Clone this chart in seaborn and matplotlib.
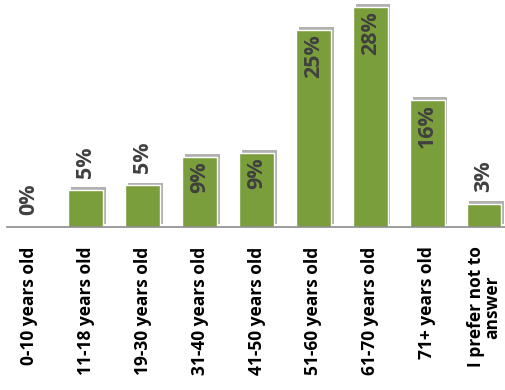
import matplotlib
matplotlib.use("Agg")
import matplotlib.pyplot as plt
import matplotlib.patheffects as pe
import seaborn as sns
import pandas as pd

categories = ["0-10 years old", "11-18 years old", "19-30 years old", "31-40 years old",
              "41-50 years old", "51-60 years old", "61-70 years old", "71+ years old",
              "I prefer not to\nanswer"]
values = [0.0, 4.7, 5.3, 8.9, 9.4, 25.1, 28.0, 16.2, 2.9]
# labels of the bars tall enough are written inside the bar
inside = [False, False, False, True, True, True, True, True, False]

sns.set_style("white")
plt.rcParams["font.family"] = ["Open Sans", "DejaVu Sans"]

df = pd.DataFrame({"age": categories, "share": values})

fig = plt.figure(figsize=(5.06, 3.90), dpi=100)
ax = fig.add_axes([7 / 506, 1 - 227 / 390, 1 - 7 / 506, 227 / 390])

sns.barplot(data=df, x="age", y="share", color="#7a9e3b", saturation=1,
            width=0.61, ax=ax)
for bar in ax.patches:
    bar.set_path_effects([pe.SimplePatchShadow(offset=(2, 2), shadow_rgbFace="#909090", alpha=0.7),
                          pe.Normal()])

for i, (v, ins) in enumerate(zip(values, inside)):
    txt = f"{v:.0f}%"
    if ins:
        ax.annotate(txt, (i, v), xytext=(0, -3), textcoords="offset points",
                    rotation=90, ha="center", va="top", fontsize=15.5,
                    fontweight="bold", color="#404040")
    else:
        ax.annotate(txt, (i, v), xytext=(0, 9), textcoords="offset points",
                    rotation=90, ha="center", va="bottom", fontsize=15.5,
                    fontweight="bold", color="#404040")

ax.set_xlim(-0.386, 8.386)
ax.set_ylim(0, 28.89)
ax.set_xlabel("")
ax.set_ylabel("")
ax.set_yticks([])
for s in ["top", "right", "left"]:
    ax.spines[s].set_visible(False)
ax.spines["bottom"].set_color("#8c8c8c")
ax.spines["bottom"].set_linewidth(1.2)
ax.tick_params(axis="x", length=0, pad=14)
ax.set_xticks(range(len(categories)))
ax.set_xticklabels(categories, rotation=90, fontsize=12.5, fontweight="bold",
                   color="black", va="top", ha="center", multialignment="center",
                   linespacing=0.9)

fig.savefig("out.png", dpi=100)
